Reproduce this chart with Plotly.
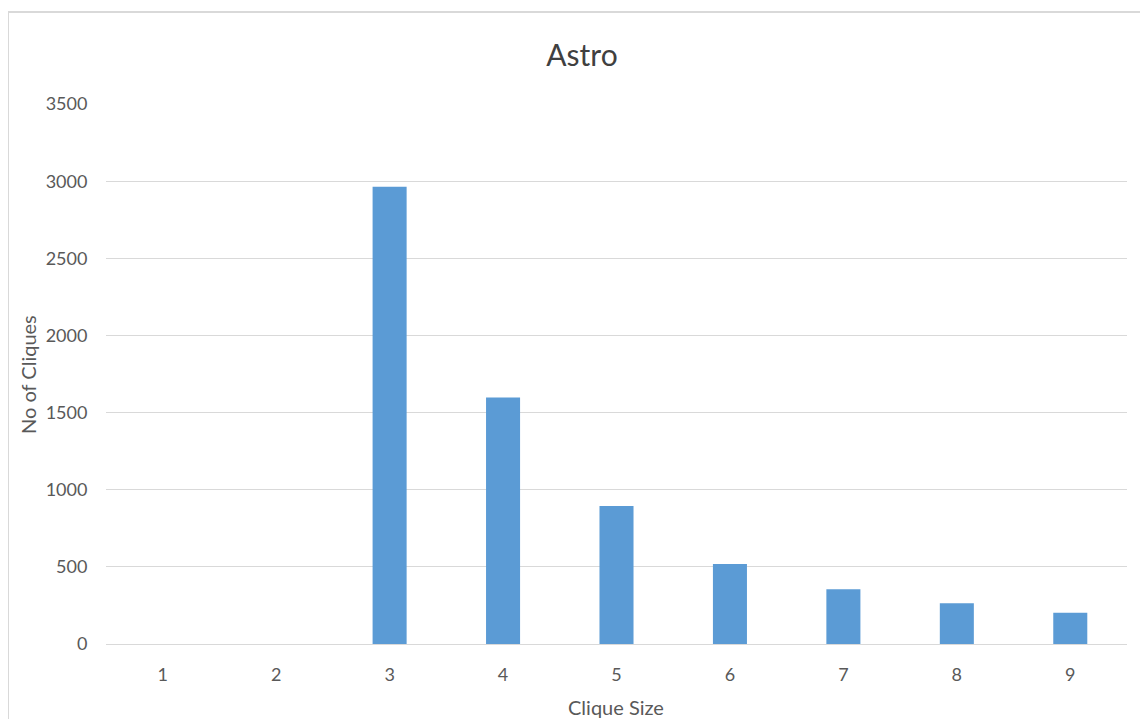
import plotly.graph_objects as go

categories = ["1", "2", "3", "4", "5", "6", "7", "8", "9"]
cliques = [0, 0, 2965, 1598, 895, 519, 355, 264, 203]
y_ticks = [0, 500, 1000, 1500, 2000, 2500, 3000, 3500]

# page body has an 8px margin, so the figure starts at page (8, 8)
OFF = 8
W, H = 1140, 711
L, R, T, B = 106 - OFF, 21, 104 - OFF, 75
pw, ph = W - L - R, H - T - B


def px_x(p):
    return (p - OFF - L) / pw


def px_y(p):
    return (H - B - (p - OFF)) / ph


font_family = "Lato, 'Open Sans', sans-serif"
txt_color = "#595959"

fig = go.Figure(
    go.Bar(
        x=categories,
        y=cliques,
        marker=dict(color="#5b9bd5", line=dict(width=0)),
        width=0.3,
    )
)

fig.update_layout(
    width=W,
    height=H,
    margin=dict(l=L, r=R, t=T, b=B),
    paper_bgcolor="white",
    plot_bgcolor="white",
    showlegend=False,
    font=dict(family=font_family, color=txt_color, size=18),
    title=dict(
        text="Astro",
        x=(582 - OFF) / W,
        xref="container",
        xanchor="center",
        y=1 - (55 - OFF) / H,
        yref="container",
        yanchor="middle",
        font=dict(size=30, color="#404040", family=font_family),
    ),
    xaxis=dict(
        type="category",
        automargin=False,
        showgrid=False,
        showline=False,
        zeroline=False,
        ticks="outside",
        ticklen=14,
        tickcolor="rgba(0,0,0,0)",
        tickfont=dict(size=18, color=txt_color),
    ),
    yaxis=dict(
        automargin=False,
        range=[0, 3501],
        tickvals=y_ticks,
        showgrid=True,
        gridcolor="#d9d9d9",
        gridwidth=1,
        zeroline=True,
        zerolinecolor="#d9d9d9",
        zerolinewidth=1,
        showline=False,
        ticks="outside",
        ticklen=14,
        tickcolor="rgba(0,0,0,0)",
        tickfont=dict(size=18, color=txt_color),
    ),
)

fig.add_annotation(
    text="Clique Size",
    xref="paper",
    yref="paper",
    x=px_x(616),
    y=px_y(707),
    xanchor="center",
    yanchor="middle",
    showarrow=False,
    font=dict(size=20, color=txt_color, family=font_family),
)

fig.add_annotation(
    text="No of Cliques",
    xref="paper",
    yref="paper",
    x=px_x(28),
    y=px_y(375),
    xanchor="center",
    yanchor="middle",
    textangle=-90,
    showarrow=False,
    font=dict(size=20, color=txt_color, family=font_family),
)

fig.add_shape(
    type="rect",
    xref="paper",
    yref="paper",
    x0=px_x(8),
    x1=px_x(1160),
    y0=px_y(730),
    y1=px_y(12),
    line=dict(color="#d9d9d9", width=2),
    fillcolor="rgba(0,0,0,0)",
    layer="below",
)

fig.write_html("out.html")
